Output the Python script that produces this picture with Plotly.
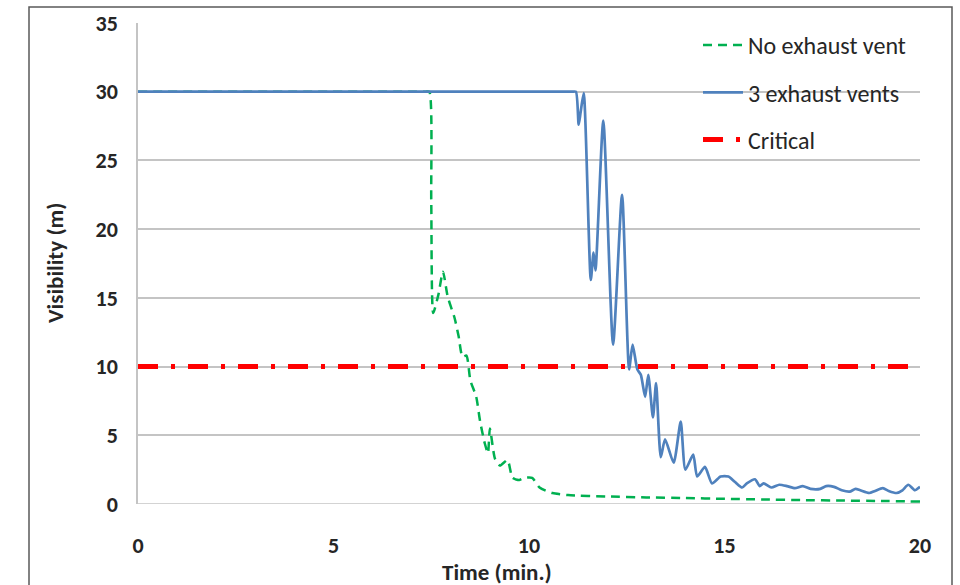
import plotly.graph_objects as go

# ---- data ----
t_none = [0, 7.0, 7.35, 7.45, 7.5, 7.55, 7.68, 7.8, 7.92, 8.1, 8.2, 8.3, 8.4, 8.5, 8.65, 8.75,
          8.87, 8.95, 9.0, 9.13, 9.26, 9.45, 9.58, 9.75, 9.88, 10.08, 10.27, 10.6,
          11.0, 12.0, 13, 14, 15, 16, 17, 18, 19, 20]
v_none = [30, 30, 30, 30, 22, 13.9, 15.2, 16.9, 15.1, 13.5, 12.2, 10.7, 10.8, 9.0, 7.8, 6.0,
          4.4, 3.7, 5.5, 3.3, 2.8, 3.2, 1.9, 1.75, 1.9, 1.9, 1.2, 0.8,
          0.65, 0.55, 0.48, 0.43, 0.38, 0.33, 0.28, 0.25, 0.22, 0.18]

t_vents = [0, 10.8, 11.1, 11.2, 11.27, 11.32, 11.4, 11.58, 11.65, 11.7, 11.9, 12.15, 12.38,
           12.56, 12.65, 12.77, 12.86, 12.97, 13.05, 13.17, 13.25, 13.37, 13.48,
           13.7, 13.88, 14.0, 14.2, 14.3, 14.5, 14.68, 14.9, 15.1, 15.27, 15.45,
           15.57, 15.78, 15.9, 16.0, 16.2, 16.4, 16.6, 16.8, 17.0, 17.2, 17.45,
           17.6, 17.8, 18.0, 18.2, 18.35, 18.47, 18.7, 18.85, 19.05, 19.2, 19.4,
           19.55, 19.7, 19.87, 20.0]
v_vents = [30, 30, 30, 30, 27.6, 28.5, 29.9, 16.3, 18.3, 17.0, 27.9, 11.6, 22.5,
           9.8, 11.6, 9.8, 9.4, 7.8, 9.4, 6.3, 8.8, 3.4, 4.7,
           3.0, 6.0, 2.5, 3.6, 2.0, 2.7, 1.5, 2.0, 2.0, 1.6, 1.2,
           1.5, 1.8, 1.3, 1.5, 1.2, 1.4, 1.3, 1.15, 1.3, 1.1, 1.1,
           1.3, 1.25, 1.0, 0.9, 1.1, 1.0, 0.8, 0.95, 1.15, 0.95, 0.8,
           1.0, 1.4, 1.0, 1.25]

t_crit = [0, 20]
v_crit = [10, 10]

x_ticks = [0, 5, 10, 15, 20]
y_ticks = [0, 5, 10, 15, 20, 25, 30, 35]

x_title = "Time (min.)"
y_title = "Visibility (m)"

FONT = "Carlito, 'Liberation Sans Narrow', 'Roboto Condensed', 'Open Sans', sans-serif"
TXT = "#262626"

fig = go.Figure()
fig.add_trace(go.Scatter(x=t_none, y=v_none, mode="lines", name="No exhaust vent",
                         legendgroup="a",
                         line=dict(color="#00B050", width=2.5, dash="9px,6px",
                                   shape="spline", smoothing=0.6)))
fig.add_trace(go.Scatter(x=t_vents, y=v_vents, mode="lines", name="3 exhaust vents",
                         legendgroup="b",
                         line=dict(color="#4F81BD", width=2.7, shape="spline", smoothing=0.6)))
fig.add_trace(go.Scatter(x=t_crit, y=v_crit, mode="lines", name="Critical",
                         legendgroup="c",
                         line=dict(color="#FF0000", width=5, dash="20px,13px,4px,13px")))

W, H = 960, 585
L, R, T, B = 138, 40, 23, 81
pw, ph = W - L - R, H - T - B

def px(x):
    return (x - L) / pw

def py(y):
    return (H - B - y) / ph

fig.update_layout(
    width=W, height=H,
    margin=dict(l=L, r=R, t=T, b=B, autoexpand=False),
    paper_bgcolor="white", plot_bgcolor="white",
    font=dict(family=FONT, color=TXT),
    showlegend=True,
    legend=dict(x=px(698), xanchor="left", y=py(23), yanchor="top",
                bgcolor="rgba(0,0,0,0)", font=dict(size=24, color=TXT),
                traceorder="grouped", tracegroupgap=13, itemwidth=40),
    xaxis=dict(range=[0, 20], tickvals=x_ticks, showgrid=False, zeroline=False,
               showline=False, ticks="", ticklabelstandoff=26, automargin=False,
               tickfont=dict(size=22, family=FONT, color=TXT, weight="bold")),
    yaxis=dict(range=[0, 35], tickvals=y_ticks, showgrid=True, gridcolor="#C4C4C4",
               gridwidth=1.5, zeroline=False, showline=True, linecolor="#C4C4C4",
               linewidth=1.5, ticks="", ticklabelstandoff=14, automargin=False,
               tickfont=dict(size=22, family=FONT, color=TXT, weight="bold")),
    annotations=[
        dict(text="<b>" + x_title + "</b>", xref="paper", yref="paper",
             x=px(497), y=py(572), xanchor="center", yanchor="middle",
             showarrow=False, font=dict(size=23, color=TXT)),
        dict(text="<b>" + y_title + "</b>", xref="paper", yref="paper",
             x=px(55), y=py(263), xanchor="center", yanchor="middle", textangle=-90,
             showarrow=False, font=dict(size=23, color=TXT)),
    ],
    shapes=[
        dict(type="line", xref="paper", yref="y", x0=0, x1=1, y0=0, y1=0,
             line=dict(color="#C4C4C4", width=1.5), layer="between"),
        dict(type="rect", xref="paper", yref="paper", x0=px(650), x1=1.0,
             y0=py(185), y1=1.02, fillcolor="white", line=dict(width=0), layer="between"),
        dict(type="rect", xref="paper", yref="paper", x0=px(29), x1=px(952),
             y0=py(600), y1=py(7), line=dict(color="#595959", width=1.5),
             fillcolor="rgba(0,0,0,0)", layer="above"),
    ],
)

fig.write_html("out.html", config={"displayModeBar": False},
               post_script="document.body.style.margin='0px';")
